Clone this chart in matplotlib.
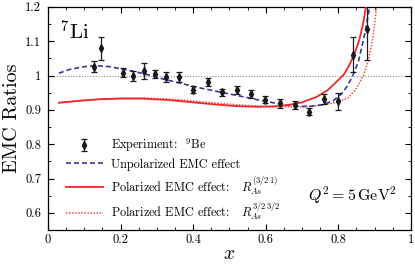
import numpy as np
import matplotlib
matplotlib.use("Agg")
import matplotlib.pyplot as plt
from matplotlib.ticker import MultipleLocator, FuncFormatter

plt.rcParams['font.family'] = ['cmr10', 'DejaVu Serif']
plt.rcParams['mathtext.fontset'] = 'cm'
plt.rcParams['axes.formatter.use_mathtext'] = True

# Experimental data (9Be)
x_exp = [0.126, 0.145, 0.206, 0.235, 0.264, 0.295, 0.325, 0.360, 0.399, 0.440,
         0.479, 0.520, 0.559, 0.598, 0.639, 0.680, 0.719, 0.760, 0.799, 0.839, 0.880]
y_exp = [1.026, 1.079, 1.008, 0.998, 1.014, 1.005, 0.996, 0.996, 0.959, 0.981,
         0.951, 0.957, 0.946, 0.930, 0.919, 0.914, 0.895, 0.931, 0.925, 1.061, 1.137]
e_exp = [0.017, 0.034, 0.013, 0.014, 0.024, 0.011, 0.015, 0.014, 0.010, 0.012,
         0.011, 0.012, 0.012, 0.011, 0.012, 0.012, 0.011, 0.015, 0.025, 0.052, 0.091]

# Unpolarized EMC effect
x_unpol = [0.03, 0.06, 0.10, 0.13, 0.17, 0.22, 0.27, 0.31, 0.36, 0.41, 0.47, 0.53,
           0.58, 0.64, 0.68, 0.72, 0.755, 0.785, 0.81, 0.825, 0.84, 0.855, 0.869, 0.878, 0.886]
y_unpol = [1.007, 1.018, 1.026, 1.029, 1.026, 1.016, 1.004, 0.992, 0.979, 0.966, 0.953, 0.940,
           0.929, 0.917, 0.911, 0.910, 0.915, 0.926, 0.948, 0.970, 1.000, 1.040, 1.103, 1.150, 1.200]

# Polarized EMC effect R_As^(3/2 1)
x_pol1 = [0.03, 0.08, 0.14, 0.20, 0.26, 0.33, 0.40, 0.46, 0.52, 0.58, 0.62, 0.66,
          0.70, 0.74, 0.77, 0.795, 0.815, 0.83, 0.845, 0.858, 0.868, 0.876]
y_pol1 = [0.921, 0.926, 0.931, 0.933, 0.933, 0.929, 0.922, 0.916, 0.911, 0.909, 0.910, 0.914,
          0.922, 0.938, 0.957, 0.982, 1.003, 1.030, 1.065, 1.105, 1.150, 1.200]

# Polarized EMC effect R_As^(3/2 3/2)
x_pol2 = [0.03, 0.08, 0.14, 0.20, 0.26, 0.33, 0.40, 0.46, 0.52, 0.58, 0.64, 0.70,
          0.75, 0.795, 0.827, 0.848, 0.869, 0.883, 0.894, 0.900, 0.905]
y_pol2 = [0.921, 0.926, 0.931, 0.934, 0.935, 0.932, 0.926, 0.920, 0.915, 0.911, 0.909, 0.909,
          0.913, 0.922, 0.935, 0.960, 1.000, 1.045, 1.103, 1.150, 1.200]

fig = plt.figure(figsize=(4.15, 2.66), dpi=100)
ax = fig.add_axes([0.1157, 0.135, 0.8745, 0.839])

ax.axhline(1.0, color='#909090', ls=(0, (1, 1.5)), lw=0.8, zorder=1)

h_exp = ax.errorbar(x_exp, y_exp, yerr=e_exp, fmt='d', color='#1a1a1a', ms=4, capsize=2,
                    elinewidth=0.9, capthick=0.9, zorder=5, label=r'Experiment:  $^9$Be')
h_u, = ax.plot(x_unpol, y_unpol, color='#3535a5', lw=1.2, dashes=(3, 1.8),
               label='Unpolarized EMC effect', zorder=3)
h_p1, = ax.plot(x_pol1, y_pol1, color='#f02828', lw=1.3,
                label=r'Polarized EMC effect:   $R_{As}^{(3/2\,1)}$', zorder=3)
h_p2, = ax.plot(x_pol2, y_pol2, color='#f05050', lw=1.1, ls=(0, (1, 1)),
                label=r'Polarized EMC effect:   $R_{As}^{3/2\,3/2}$', zorder=2)

ax.set_xlim(0, 1)
ax.set_ylim(0.55, 1.2)
ax.xaxis.set_major_locator(MultipleLocator(0.2))
ax.xaxis.set_minor_locator(MultipleLocator(0.05))
ax.yaxis.set_major_locator(MultipleLocator(0.1))
ax.yaxis.set_minor_locator(MultipleLocator(0.05))
fmt = FuncFormatter(lambda v, p: '%g' % round(v, 2))
ax.xaxis.set_major_formatter(fmt)
ax.yaxis.set_major_formatter(fmt)
ax.tick_params(which='both', direction='in', top=True, right=True, labelsize=9)
ax.tick_params(which='major', length=4, width=0.8)
ax.tick_params(which='minor', length=2, width=0.6)
ax.tick_params(axis='x', pad=3)
ax.tick_params(axis='y', pad=5)
for s in ax.spines.values():
    s.set_linewidth(0.9)

ax.set_xlabel(r'$x$', fontsize=14, labelpad=-1)
ax.set_ylabel('EMC Ratios', fontsize=14.5, labelpad=3)

ax.text(0.033, 1.105, r'$^7$Li', fontsize=15)
ax.text(0.96, 0.652, r'$Q^2 = 5\,\mathrm{GeV}^2$', fontsize=11.5, ha='right', va='center')

leg = ax.legend([h_exp, h_u, h_p1, h_p2], [h.get_label() for h in [h_exp, h_u, h_p1, h_p2]],
                loc='upper left', bbox_to_anchor=(0.05, 0.42), frameon=False,
                fontsize=8.8, handlelength=3.0, handletextpad=0.7, labelspacing=0.3,
                borderpad=0, borderaxespad=0)

fig.savefig('out.png', dpi=100)
